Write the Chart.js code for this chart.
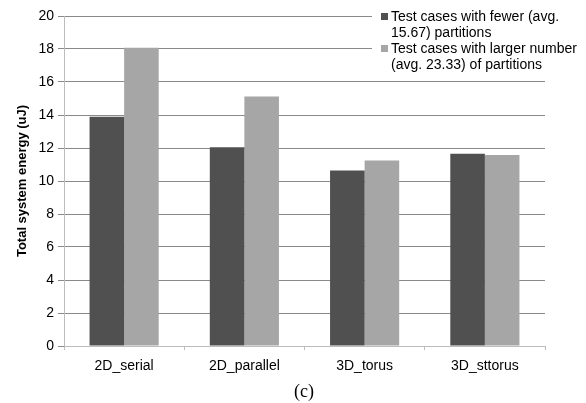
<!DOCTYPE html>
<html>
<head>
<meta charset="utf-8">
<script src="https://cdn.jsdelivr.net/npm/chart.js@4/dist/chart.umd.min.js"></script>
<style>
html,body{margin:0;padding:0;background:#fff;}
#wrap{position:relative;width:586px;height:403px;}
</style>
</head>
<body>
<div id="wrap"><canvas id="c" width="586" height="403"></canvas></div>
<script>
const categories = ['2D_serial', '2D_parallel', '3D_torus', '3D_sttorus'];
const fewerPartitions = [13.9, 12.05, 10.63, 11.65];
const largerPartitions = [18.07, 15.12, 11.25, 11.57];
const seriesLabels = [
  ['Test cases with fewer (avg.', '15.67) partitions'],
  ['Test cases with larger number', '(avg. 23.33) of partitions']
];
const yTicks = [0, 2, 4, 6, 8, 10, 12, 14, 16, 18, 20];
const yTitle = 'Total system energy (uJ)';
const caption = '(c)';

const FONT = '"Liberation Sans", Arial, sans-serif';
const colors = ['#505050', '#a6a6a6'];

const legendPlugin = {
  id: 'customLegend',
  afterDraw(chart) {
    const ctx = chart.ctx;
    ctx.save();
    ctx.fillStyle = '#ffffff';
    ctx.fillRect(372, 0, 214, 76);
    ctx.font = '14px ' + FONT;
    ctx.textBaseline = 'alphabetic';
    chart.data.datasets.forEach((ds, i) => {
      const base = 21 + i * 32;
      ctx.fillStyle = ds.backgroundColor;
      ctx.fillRect(381, base - 8, 7, 7);
      ctx.fillStyle = '#000';
      ds.legendLines.forEach((line, j) => {
        ctx.fillText(line, 391, base + j * 16);
      });
    });
    // caption
    ctx.font = '18px "Liberation Serif", "Times New Roman", serif';
    ctx.textAlign = 'center';
    ctx.fillStyle = '#000';
    ctx.fillText(caption, 304, 397);
    ctx.restore();
  }
};

new Chart(document.getElementById('c'), {
  type: 'bar',
  data: {
    labels: categories,
    datasets: [
      { label: seriesLabels[0].join(' '), legendLines: seriesLabels[0], data: fewerPartitions,
        backgroundColor: colors[0], borderWidth: 0 },
      { label: seriesLabels[1].join(' '), legendLines: seriesLabels[1], data: largerPartitions,
        backgroundColor: colors[1], borderWidth: 0 }
    ]
  },
  options: {
    responsive: false,
    animation: false,
    devicePixelRatio: 1,
    layout: { padding: { left: 0, right: 41, top: 16, bottom: 0 } },
    plugins: { legend: { display: false }, tooltip: { enabled: false } },
    datasets: { bar: { categoryPercentage: 0.575, barPercentage: 1.0 } },
    scales: {
      x: {
        grid: { drawOnChartArea: false, drawTicks: true, tickLength: 4, color: '#bcbcbc', offset: true },
        border: { color: '#bcbcbc', width: 1 },
        ticks: { color: '#000', font: { family: FONT, size: 14 }, padding: 8, maxRotation: 0 },
        afterFit(scale) { scale.height = 57; }
      },
      y: {
        min: 0, max: 20,
        afterBuildTicks(scale) { scale.ticks = yTicks.map(v => ({ value: v })); },
        grid: { color: '#8a8a8a', tickLength: 6, tickColor: '#8a8a8a' },
        border: { color: '#bcbcbc', width: 1 },
        ticks: { color: '#000', font: { family: FONT, size: 14 }, padding: 4 },
        title: { display: true, text: yTitle, color: '#000', font: { family: FONT, size: 13, weight: 'bold' }, padding: { top: 15, bottom: 0 } },
        afterFit(scale) { scale.width = 64; }
      }
    }
  },
  plugins: [legendPlugin]
});
</script>
</body>
</html>
